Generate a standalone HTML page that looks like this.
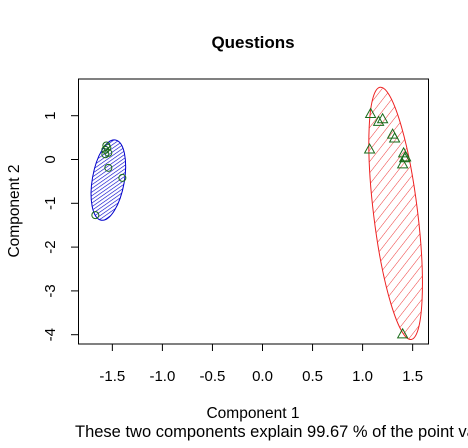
<!DOCTYPE html>
<html><head><meta charset="utf-8"><style>
body{margin:0;background:#fff}
svg text{font-family:"Liberation Sans",Arial,sans-serif}
</style></head><body>
<svg id="chart" width="468" height="443" xmlns="http://www.w3.org/2000/svg">
<defs>
<pattern id="hb" patternUnits="userSpaceOnUse" width="3" height="3" patternTransform="rotate(45)">
<line x1="0" y1="0" x2="0" y2="3" stroke="#0000cc" stroke-width="1.2"/></pattern>
<pattern id="hr" patternUnits="userSpaceOnUse" width="7" height="7" patternTransform="rotate(45)">
<line x1="0" y1="0" x2="0" y2="7" stroke="#ee2222" stroke-width="0.9"/></pattern>
</defs>
<text x="253" y="48" font-size="17" font-weight="bold" text-anchor="middle">Questions</text>
<rect x="78.5" y="79" width="350" height="265" fill="none" stroke="#000"/>
<g id="xt"></g><g id="yt"></g><g id="ell"></g><g id="pts"></g>
<text x="253" y="418" font-size="15.5" text-anchor="middle">Component 1</text>
<text x="0" y="0" font-size="15.5" text-anchor="middle" transform="translate(19,211) rotate(-90)">Component 2</text>
<text x="75" y="437" font-size="16.5">These two components explain 99.67 % of the point va</text>
</svg>
<script>
const xTicks=[-1.5,-1.0,-0.5,0.0,0.5,1.0,1.5];
const yTicks=[1,0,-1,-2,-3,-4];
const circX=[-1.56,-1.57,-1.55,-1.54,-1.57,-1.54,-1.40,-1.67];
const circY=[0.32,0.22,0.27,0.15,0.12,-0.19,-0.42,-1.27];
const triX=[1.08,1.16,1.20,1.30,1.32,1.07,1.41,1.42,1.43,1.40,1.40];
const triY=[1.05,0.87,0.93,0.58,0.49,0.24,0.15,0.04,0.06,-0.10,-3.98];
const ellCx=[-1.54,1.33], ellCy=[-0.47,-1.23];
const ellRx=[0.16,0.22], ellRy=[0.93,2.9], ellAng=[10,-7];
const ellFill=['url(#hb)','url(#hr)'], ellStroke=['#0000cc','#ee2222'];
const X=v=>262.5+v*100.1, Y=v=>159.5-v*43.8;
const NS='http://www.w3.org/2000/svg';
function mk(t,a,p){const e=document.createElementNS(NS,t);for(const k in a)e.setAttribute(k,a[k]);p.appendChild(e);return e;}
const xt=document.getElementById('xt'),yt=document.getElementById('yt');
xTicks.forEach(v=>{
 const l=mk('line',{x1:X(v),x2:X(v),y1:344,y2:351,stroke:'#000'},xt);
 
 
 const t=mk('text',{x:X(v),y:381,'font-size':15,'text-anchor':'middle'},xt);t.textContent=v.toFixed(1);
 
 
});
yTicks.forEach(v=>{
 const l=mk('line',{x1:71,x2:78.5,y1:Y(v),y2:Y(v),stroke:'#000'},yt);
 
 
 const t=mk('text',{x:0,y:0,'font-size':15,'text-anchor':'middle',transform:`translate(55,${Y(v)}) rotate(-90)`},yt);t.textContent=v;
 
 
});
const eg=document.getElementById('ell');
ellCx.forEach((c,i)=>{
 const e=mk('ellipse',{cx:X(c),cy:Y(ellCy[i]),rx:ellRx[i]*100.1,ry:ellRy[i]*43.8,fill:ellFill[i],stroke:ellStroke[i],'stroke-width':1,transform:`rotate(${ellAng[i]} ${X(c)} ${Y(ellCy[i])})`},eg);
 
 
});
const pg=document.getElementById('pts');
circX.forEach((x,i)=>{
 const c=mk('circle',{cx:X(x),cy:Y(circY[i]),r:3.5,fill:'none',stroke:'#1a6b1a'},pg);
 
 
});
triX.forEach((x,i)=>{
 const cx=X(x),cy=Y(triY[i]);
 const p=mk('polygon',{points:`${cx},${cy-5} ${cx-5},${cy+4} ${cx+5},${cy+4}`,fill:'none',stroke:'#1a6b1a'},pg);
 
 
});
</script>
</body></html>
